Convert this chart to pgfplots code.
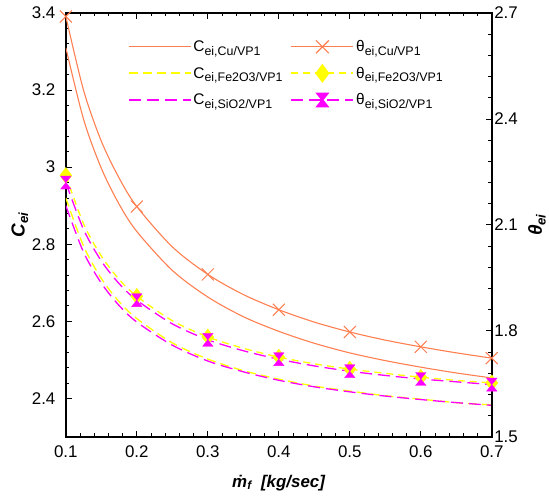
\documentclass[border=0pt]{standalone}
\usepackage{fontspec}
\setmainfont{Liberation Sans}
\usepackage{pgfplots}
\pgfplotsset{compat=1.18}
\definecolor{cuorange}{HTML}{FF7F50}
\definecolor{cyel}{HTML}{FFFF00}
\definecolor{cmag}{HTML}{FF00FF}

% hourglass: two triangles tip to tip
\pgfdeclareplotmark{hourglass}{%
  \pgfpathmoveto{\pgfqpoint{-.8\pgfplotmarksize}{\pgfplotmarksize}}%
  \pgfpathlineto{\pgfqpoint{.8\pgfplotmarksize}{\pgfplotmarksize}}%
  \pgfpathlineto{\pgfqpoint{-.8\pgfplotmarksize}{-\pgfplotmarksize}}%
  \pgfpathlineto{\pgfqpoint{.8\pgfplotmarksize}{-\pgfplotmarksize}}%
  \pgfpathclose\pgfusepathqfillstroke}

\newcommand\sub[1]{\raisebox{-0.45ex}{\fontsize{12.5}{12.5}\selectfont #1}}

\pgfplotstableread{
x     ccu   tcu   cfe   tfe   csi   tsi
0.1   3.310 2.690 2.920 2.240 2.900 2.220
0.125 3.124 2.481 2.795 2.103 2.779 2.087
0.15  2.997 2.337 2.711 2.012 2.699 1.998
0.175 2.904 2.233 2.651 1.946 2.641 1.934
0.2   2.833 2.152 2.607 1.898 2.598 1.887
0.25  2.732 2.038 2.544 1.829 2.538 1.820
0.3   2.663 1.960 2.502 1.783 2.497 1.775
0.35  2.612 1.903 2.472 1.751 2.469 1.744
0.4   2.574 1.860 2.450 1.726 2.447 1.720
0.45  2.543 1.825 2.432 1.707 2.430 1.701
0.5   2.518 1.797 2.419 1.692 2.417 1.686
0.55  2.498 1.774 2.407 1.680 2.406 1.674
0.6   2.481 1.755 2.398 1.669 2.397 1.664
0.65  2.466 1.738 2.389 1.660 2.389 1.656
0.7   2.453 1.723 2.383 1.653 2.382 1.648
}\curves

\pgfplotstableread{
x    tcu   tfe   tsi
0.1  2.690 2.240 2.220
0.2  2.152 1.898 1.887
0.3  1.960 1.783 1.775
0.4  1.860 1.726 1.720
0.5  1.797 1.692 1.686
0.6  1.755 1.669 1.664
0.7  1.723 1.653 1.648
}\marks

\pgfplotsset{
  cmn/.style={
    at={(66bp,59bp)},anchor=south west,
    width=427bp,height=425bp,scale only axis,
    xmin=0.1,xmax=0.7,
    tick align=inside,
    major tick length=6bp,minor tick length=3.5bp,
    axis line style={line width=1.6bp},
    every tick/.style={black,line width=0.9bp},
    tick label style={font=\fontsize{17}{17}\selectfont},
    /pgf/number format/assume math mode=true,
  },
}

\begin{document}
\begin{tikzpicture}
\path (0,0) rectangle (549bp,497bp);

\begin{axis}[cmn,
  ymin=2.3,ymax=3.4,
  ytick={2.4,2.6,2.8,3,3.2,3.4},minor y tick num=4,
  xtick={0.1,0.2,0.3,0.4,0.5,0.6,0.7},minor x tick num=4,
  ytick pos=left,xtick pos=both,xticklabel pos=bottom,
  yticklabel style={xshift=-7bp},
  xticklabel style={yshift=-5bp},
  ylabel={\textbf{\textit{C\textsubscript{ei}}}},
  ylabel style={font=\fontsize{19}{19}\selectfont,at={(axis description cs:-0.108,0.5)},anchor=center},
  xlabel={\textbf{\textit{\.{m}\textsubscript{f}\ \ [kg/sec]}}},
  xlabel style={font=\fontsize{17}{17}\selectfont,at={(axis description cs:0.5,-0.108)},anchor=center},
  legend columns=2,
  legend style={at={(rel axis cs:0.138,0.945)},anchor=north west,draw=none,fill=none,
    font=\fontsize{15.5}{15.5}\selectfont,row sep=10bp,
    /tikz/every even column/.append style={column sep=6bp}},
  legend cell align=left,
  legend image code/.code={%
    \draw[#1,mark=none] (0bp,0bp) -- (62bp,0bp);
    \path[#1,solid] plot coordinates {(31bp,0bp)};},
]
\addlegendimage{draw=cuorange,line width=1.2bp}
\addlegendentry{C\sub{ei,Cu/VP1}}
\addlegendimage{draw=cuorange,line width=1.2bp,mark=x,mark size=9bp,mark options={draw=cuorange}}
\addlegendentry{θ\sub{ei,Cu/VP1}}
\addlegendimage{draw=cyel,line width=1.8bp,dash pattern=on 9bp off 5bp}
\addlegendentry{C\sub{ei,Fe2O3/VP1}}
\addlegendimage{draw=cyel,line width=1.8bp,dash pattern=on 7bp off 5bp,mark=diamond*,mark size=8bp,mark options={solid,draw=cyel,fill=cyel}}
\addlegendentry{θ\sub{ei,Fe2O3/VP1}}
\addlegendimage{draw=cmag,line width=1.8bp,dash pattern=on 12bp off 6bp}
\addlegendentry{C\sub{ei,SiO2/VP1}}
\addlegendimage{draw=cmag,line width=1.8bp,dash pattern=on 12bp off 6bp,mark=hourglass,mark size=6.5bp,mark options={solid,draw=cmag,fill=cmag}}
\addlegendentry{θ\sub{ei,SiO2/VP1}}

\addplot[cuorange,line width=1.1bp,smooth,forget plot] table[x=x,y=ccu]{\curves};
\addplot[cyel,line width=1.3bp,smooth,dash pattern=on 9bp off 5bp,forget plot] table[x=x,y=cfe]{\curves};
\addplot[cmag,line width=1.3bp,smooth,dash pattern=on 12bp off 6bp,forget plot] table[x=x,y=csi]{\curves};
\end{axis}

\begin{axis}[cmn,
  ymin=1.5,ymax=2.7,
  ytick={1.5,1.8,2.1,2.4,2.7},minor y tick num=4,
  axis x line=none,axis y line*=right,
  yticklabel style={xshift=-1bp},
  ylabel={\textbf{\textit{θ\textsubscript{ei}}}},
  ylabel style={font=\fontsize{19}{19}\selectfont,at={(axis description cs:1.106,0.5)},anchor=center},
]
\addplot[cuorange,line width=1.1bp,smooth] table[x=x,y=tcu]{\curves};
\addplot[cuorange,only marks,mark=x,mark size=8.5bp,line width=1bp] table[x=x,y=tcu]{\marks};
\addplot[cyel,line width=1.3bp,smooth,dash pattern=on 7bp off 5bp] table[x=x,y=tfe]{\curves};
\addplot[cyel,only marks,mark=diamond*,mark size=8bp,fill=cyel] table[x=x,y=tfe]{\marks};
\addplot[cmag,line width=1.3bp,smooth,dash pattern=on 12bp off 6bp] table[x=x,y=tsi]{\curves};
\addplot[cmag,only marks,mark=hourglass,mark size=6.5bp,fill=cmag] table[x=x,y=tsi]{\marks};
\end{axis}
\end{tikzpicture}
\end{document}
